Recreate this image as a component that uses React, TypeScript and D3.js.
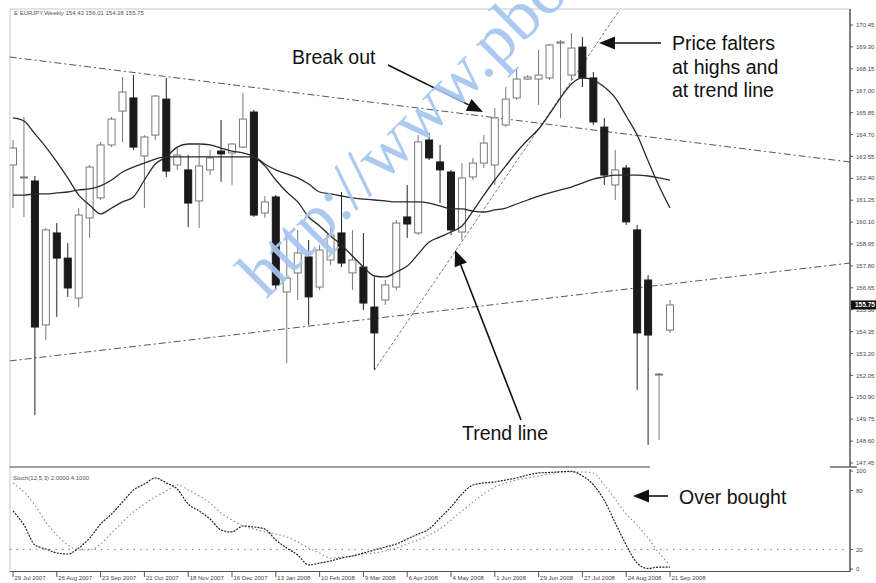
import React from "react";
import * as d3 from "d3";

// ---------- DATA (EUR/JPY weekly) ----------
const dateLabels = ["29 Jul 2007","26 Aug 2007","23 Sep 2007","21 Oct 2007","18 Nov 2007","16 Dec 2007","13 Jan 2008","10 Feb 2008","9 Mar 2008","6 Apr 2008","4 May 2008","1 Jun 2008","29 Jun 2008","27 Jul 2008","24 Aug 2008","21 Sep 2008"];
const dateLabelIndex = [0,4,8,12,16,20,24,28,32,36,40,44,48,52,56,60];

const priceTicks = [147.45,148.6,149.75,150.9,152.05,153.2,154.35,155.5,156.65,157.8,158.95,160.1,161.25,162.4,163.55,164.7,165.85,167.0,168.15,169.3,170.45];
const stochTicks = [0, 20, 80, 100];

const open = [163.10,162.42,162.26,154.70,159.53,158.21,156.11,160.32,161.37,164.15,165.93,166.62,163.57,164.67,166.56,163.10,162.84,161.21,162.84,163.83,163.73,164.04,165.88,160.58,161.42,156.43,157.43,158.27,156.69,158.11,159.53,157.43,157.74,155.64,156.01,156.69,160.37,159.53,164.41,163.26,162.73,159.58,162.47,163.20,163.10,165.20,166.62,167.61,167.61,167.67,169.50,167.82,169.29,167.67,165.09,162.05,162.94,159.69,157.06,152.10,154.43];
const high = [164.41,165.62,162.52,159.79,160.05,159.00,160.84,163.10,164.31,165.62,167.72,167.82,164.67,166.77,167.67,163.99,163.62,164.15,163.89,165.46,164.25,166.88,165.99,161.47,161.52,159.53,159.69,159.16,158.90,159.79,161.68,159.69,159.53,157.22,157.06,160.21,162.05,164.67,164.78,164.15,162.84,163.20,163.47,164.67,166.09,167.19,168.19,167.82,169.14,169.45,169.66,170.03,169.82,167.98,165.57,163.89,163.10,159.95,157.32,152.18,156.01];
const low = [160.84,160.37,149.97,153.91,155.12,156.17,155.64,159.27,161.26,164.04,164.31,163.89,160.84,164.41,162.47,162.84,159.84,159.79,162.57,162.21,162.05,163.99,160.37,160.32,156.53,152.70,156.01,154.70,156.53,157.85,157.74,156.53,155.48,152.33,155.75,156.53,159.27,159.42,163.36,161.10,159.42,159.16,162.31,162.94,162.05,165.09,166.51,167.56,166.25,167.56,165.57,167.56,167.19,165.20,162.05,161.26,159.95,151.28,148.40,148.66,154.28];
const close = [163.99,162.47,154.59,159.69,158.21,156.64,160.47,162.99,164.15,165.51,166.93,164.04,164.57,166.72,162.78,163.62,161.10,163.05,163.47,163.68,164.20,165.51,160.47,161.16,156.80,157.16,158.48,156.17,158.63,159.42,157.95,158.11,155.85,154.28,156.80,160.05,160.00,164.31,163.47,162.84,159.69,162.42,163.20,164.25,165.57,166.56,167.61,167.72,167.82,169.40,169.56,169.24,167.67,165.36,162.57,162.84,160.11,154.28,154.17,152.12,155.75];

const maFast = [165.57,165.41,164.73,164.04,163.26,162.42,161.52,161.00,160.53,160.84,161.16,161.42,162.31,163.15,163.52,164.04,164.20,164.20,164.15,163.99,163.83,163.73,163.52,163.05,162.31,161.68,161.16,160.37,159.90,159.37,158.90,158.32,157.74,157.27,157.22,157.48,157.79,158.42,159.05,159.32,159.58,159.90,160.68,161.52,162.31,163.05,163.78,164.41,164.99,165.78,166.62,167.35,167.67,167.56,167.19,166.62,165.67,164.67,163.31,162.00,160.84];
const maSlow = [161.52,161.52,161.58,161.58,161.63,161.68,161.79,161.84,162.00,162.31,162.73,162.99,163.20,163.41,163.52,163.52,163.52,163.52,163.52,163.52,163.52,163.52,163.52,163.15,162.84,162.63,162.42,162.10,161.68,161.58,161.47,161.37,161.31,161.26,161.21,161.16,161.16,161.16,161.10,160.95,160.79,160.79,160.68,160.63,160.74,160.84,161.05,161.26,161.47,161.63,161.79,161.94,162.15,162.36,162.47,162.57,162.57,162.57,162.52,162.42,162.31];

const stochK = [59.2,44.9,24.5,20.4,16.3,15.3,21.4,31.6,45.9,56.1,68.4,80.6,86.7,92.9,87.8,81.6,66.3,59.2,51.0,39.8,37.8,43.9,42.9,40.8,29.6,21.4,14.3,4.1,6.1,8.2,11.2,13.3,16.3,19.4,22.4,25.5,30.6,35.7,40.8,52.0,63.3,76.5,85.7,87.8,88.8,90.8,92.9,95.9,98.0,98.5,99.2,99.6,95.0,86.0,70.0,47.0,24.5,6.0,0.5,2.0,2.0];
const stochD = [87.8,78.6,65.3,48.0,34.7,24.5,19.4,19.4,25.5,36.7,48.0,58.2,66.3,73.5,79.6,85.7,80.6,74.5,67.3,57.1,50.0,43.9,40.8,37.8,35.7,32.7,27.6,21.4,16.3,11.2,12.2,13.3,15.3,16.3,18.4,21.4,25.5,29.6,34.7,40.8,50.0,59.2,68.4,76.5,83.7,87.8,90.8,92.9,94.9,96.9,99.0,99.0,99.0,98.0,85.7,71.4,56.1,44.9,31.6,16.3,4.1];

// trend lines as [bar index, price]
const channelTop: [number, number][] = [[-0.3, 168.77], [79, 163.07]];
const channelBottom: [number, number][] = [[-0.3, 152.81], [79, 158.12]];
const trendLine: [number, number][] = [[33, 152.33], [55.4, 171.24]];

const symbolHeader = "EURJPY,Weekly";
const stochHeader = "Stoch(12,5,3)";

// ---------- CHART ----------
function Arrow({ x1, y1, x2, y2 }: { x1: number; y1: number; x2: number; y2: number }) {
  const a = Math.atan2(y2 - y1, x2 - x1);
  const L = 16, hw = 6.5;
  const bx = x2 - L * Math.cos(a), by = y2 - L * Math.sin(a);
  const p1 = [bx + hw * Math.sin(a), by - hw * Math.cos(a)];
  const p2 = [bx - hw * Math.sin(a), by + hw * Math.cos(a)];
  return (
    <g>
      <line x1={x1} y1={y1} x2={bx} y2={by} stroke="#111" strokeWidth={1.6} />
      <polygon points={`${x2},${y2} ${p1[0]},${p1[1]} ${p2[0]},${p2[1]}`} fill="#111" />
    </g>
  );
}

export default function App() {
  const x = d3.scaleLinear().domain([0, 60]).range([13, 670]);
  const y = d3.scaleLinear().domain([147.45, 170.45]).range([463, 25]);
  const ys = d3.scaleLinear().domain([0, 100]).range([569, 471]);

  const lineP = d3.line<number>().x((_, i) => x(i)).y((d) => y(d)).curve(d3.curveMonotoneX);
  const lineS = d3.line<number>().x((_, i) => x(i)).y((d) => ys(d)).curve(d3.curveMonotoneX);
  const lineT = d3.line<[number, number]>().x((d) => x(d[0])).y((d) => y(d[1]));

  const bodyW = 7;
  const last = close.length - 1;
  const fmt = d3.format(".2f");
  const axisFont = "Liberation Sans, Arial, sans-serif";

  return (
    <svg width={876} height={583} style={{ position: "absolute", left: 0, top: 0, background: "#fff" }} fontFamily={axisFont}>
      <defs>
        <clipPath id="pclip"><rect x={10} y={9} width={840} height={458} /></clipPath>
        <clipPath id="sclip"><rect x={10} y={468} width={840} height={103} /></clipPath>
        <clipPath id="wclip"><rect x={0} y={0} width={876} height={583} /></clipPath>
      </defs>
      <rect x={0} y={0} width={876} height={583} fill="#fff" />

      {/* frame */}
      <line x1={10} x2={850} y1={9} y2={9} stroke="#c8c8c8" />
      <line x1={10} x2={10} y1={9} y2={572} stroke="#c8c8c8" />
      <line x1={850} x2={850} y1={9} y2={467} stroke="#555" strokeWidth={1.5} />
      <line x1={850} x2={850} y1={469} y2={572} stroke="#555" strokeWidth={1.5} />
      <line x1={10} x2={650} y1={467} y2={467} stroke="#444" strokeWidth={1.2} />
      <line x1={830} x2={857} y1={467} y2={467} stroke="#444" strokeWidth={1.2} />
      <line x1={10} x2={850} y1={571.5} y2={571.5} stroke="#555" strokeWidth={1.2} />

      {/* header */}
      <text x={14} y={15} fontSize={6} fill="#555">{`E  ${symbolHeader}  ${fmt(open[last])} ${fmt(high[last])} ${fmt(low[last])} ${fmt(close[last])}`}</text>

      <g clipPath="url(#pclip)">
        {/* channel + trend lines */}
        <path d={lineT(channelTop) || ""} stroke="#555" strokeWidth={1} fill="none" strokeDasharray="7,3,2,3" />
        <path d={lineT(channelBottom) || ""} stroke="#555" strokeWidth={1} fill="none" strokeDasharray="7,3,2,3" />
        <path d={lineT(trendLine) || ""} stroke="#777" strokeWidth={1} fill="none" strokeDasharray="3,2" />

        {/* candles */}
        {close.map((c, i) => {
          const o = open[i];
          const up = c >= o;
          const cx = x(i);
          const top = y(Math.max(o, c));
          const bot = y(Math.min(o, c));
          return (
            <g key={i}>
              <line x1={cx} x2={cx} y1={y(high[i])} y2={y(low[i])} stroke={up ? "#777" : "#222"} strokeWidth={1} />
              <rect x={cx - bodyW / 2} y={top} width={bodyW} height={Math.max(1, bot - top)}
                fill={up ? "#fff" : "#1a1a1a"} stroke={up ? "#777" : "#1a1a1a"} strokeWidth={1} />
            </g>
          );
        })}

        {/* moving averages */}
        <path d={lineP(maSlow) || ""} stroke="#2a2a2a" strokeWidth={1.3} fill="none" />
        <path d={lineP(maFast) || ""} stroke="#2a2a2a" strokeWidth={1.3} fill="none" />
      </g>

      {/* price axis */}
      {priceTicks.map((t) => (
        <g key={t}>
          <line x1={850} x2={853} y1={y(t)} y2={y(t)} stroke="#555" />
          <text x={856} y={y(t)} dy="0.35em" fontSize={6} fill="#444">{fmt(t)}</text>
        </g>
      ))}
      <rect x={851} y={y(close[last]) - 4.5} width={25} height={9} fill="#111" />
      <text x={855} y={y(close[last])} dy="0.35em" fontSize={6.5} fill="#fff" fontWeight="bold">{fmt(close[last])}</text>

      {/* stochastic panel */}
      <text x={13} y={480} fontSize={6} fill="#555">{`${stochHeader} ${stochK[last].toFixed(4)} ${stochD[last].toFixed(4)}`}</text>
      <g clipPath="url(#sclip)">
        <line x1={10} x2={845} y1={ys(20)} y2={ys(20)} stroke="#777" strokeDasharray="1.5,5" />
        <path d={lineS(stochD) || ""} stroke="#888" strokeWidth={1.1} fill="none" strokeDasharray="1.5,2.5" />
        <path d={lineS(stochK) || ""} stroke="#222" strokeWidth={1.2} fill="none" strokeDasharray="2,1.2" />
      </g>
      {stochTicks.map((t) => (
        <g key={t}>
          <line x1={850} x2={853} y1={ys(t)} y2={ys(t)} stroke="#555" />
          <text x={856} y={ys(t)} dy="0.35em" fontSize={6} fill="#444">{t}</text>
        </g>
      ))}

      {/* time axis */}
      {dateLabelIndex.map((di, k) => (
        <g key={di}>
          <line x1={x(di)} x2={x(di)} y1={572} y2={577} stroke="#555" />
          <text x={x(di) + 1.5} y={580} fontSize={6} fill="#444">{dateLabels[k]}</text>
        </g>
      ))}

      {/* annotations */}
      <g fontFamily="Liberation Sans, Arial, sans-serif" fontSize={19.5} fill="#111">
        <text x={292} y={64}>Break out</text>
        <text x={672} y={50}>Price falters</text>
        <text x={672} y={73.5}>at highs and</text>
        <text x={672} y={97}>at trend line</text>
        <text x={462} y={440}>Trend line</text>
        <text x={679} y={504}>Over bought</text>
      </g>
      <Arrow x1={388} y1={65} x2={483} y2={112} />
      <Arrow x1={661} y1={43} x2={599} y2={43} />
      <Arrow x1={521} y1={420} x2={455} y2={250} />
      <Arrow x1={668} y1={496} x2={633} y2={496} />

      {/* watermark */}
      <g clipPath="url(#wclip)">
        <text transform="translate(266,300) rotate(-45)" fontFamily="Liberation Serif, Times New Roman, serif"
          fontSize={69} fill="#a6c5ee" opacity={0.92}>http://www.pbo</text>
      </g>
    </svg>
  );
}
